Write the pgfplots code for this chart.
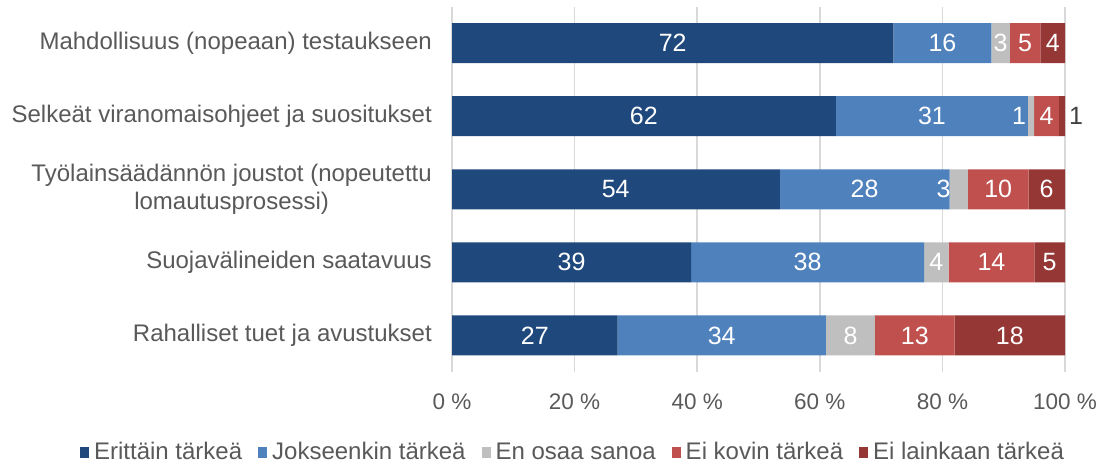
\documentclass[border=0pt]{standalone}
\usepackage{pgfplots}
\pgfplotsset{compat=1.18}
\usepackage{pgfplotstable}
\usepackage{fontspec}
\setmainfont{Liberation Sans}
\definecolor{cA}{HTML}{1F497D}
\definecolor{cB}{HTML}{4F81BD}
\definecolor{cC}{HTML}{BFBFBF}
\definecolor{cD}{HTML}{C0504D}
\definecolor{cE}{HTML}{953735}
\definecolor{txt}{HTML}{595959}
\definecolor{lblgray}{HTML}{404040}
\definecolor{gridc}{HTML}{D9D9D9}

% share of each answer (normalised to 100 per row)
\pgfplotstableread{
y x
0 72
1 62.63
2 53.47
3 39
4 27
}\dA
\pgfplotstableread{
y x
0 16
1 31.31
2 27.72
3 38
4 34
}\dB
\pgfplotstableread{
y x
0 3
1 1.01
2 2.97
3 4
4 8
}\dC
\pgfplotstableread{
y x
0 5
1 4.04
2 9.90
3 14
4 13
}\dD
\pgfplotstableread{
y x
0 4
1 1.01
2 5.94
3 5
4 18
}\dE
% data labels: position and printed value
\pgfplotstableread{
y x lab
0 36 72
0 80 16
0 89.5 3
0 93.5 5
0 98 4
1 31.3 62
1 78.3 31
1 92.5 1
1 97 4
2 26.7 54
2 67.3 28
2 80.2 3
2 89.1 10
2 97 6
3 19.5 39
3 58 38
3 79 4
3 88 14
3 97.5 5
4 13.5 27
4 44 34
4 65 8
4 75.5 13
4 91 18
}\dL
\pgfplotstableread{
y x lab
1 101.8 1
}\dLout

\pgfplotsset{common/.style={
  at={(452pt,91pt)}, anchor=south west,
  scale only axis, width=613pt, height=365.5pt,
  xmin=0, xmax=100, ymin=-0.5, ymax=4.5,
  y dir=reverse, clip=false,
  enlarge x limits=false, enlarge y limits=false,
}}

\begin{document}
\begin{tikzpicture}
\useasboundingbox (0,0) rectangle (1099pt,463pt);
\begin{axis}[
  common,
  xbar stacked, bar width=40pt,
  axis line style={draw=none},
  major tick style={draw=none},
  xmajorgrids, grid style={gridc, line width=1.5pt},
  xtick={0,20,40,60,80,100},
  xticklabels={0 \%,20 \%,40 \%,60 \%,80 \%,100 \%},
  xticklabel style={font=\fontsize{22.5}{26}\selectfont, text=txt, anchor=north, yshift=-18pt},
  ytick={0,1,2,3,4},
  yticklabels={Mahdollisuus (nopeaan) testaukseen, Selkeät viranomaisohjeet ja suositukset, {Työlainsäädännön joustot (nopeutettu\\lomautusprosessi)}, Suojavälineiden saatavuus, Rahalliset tuet ja avustukset},
  yticklabel style={font=\fontsize{24}{28.5}\selectfont, text=txt, align=center, anchor=east, inner sep=0pt, xshift=-20pt},
  legend columns=5,
  legend style={draw=none, fill=none, at={(axis description cs:0.1958,-0.2189)}, anchor=center,
    font=\fontsize{24}{28}\selectfont, text=txt,
    nodes={inner sep=0pt},
    /tikz/every odd column/.append style={column sep=5pt},
    /tikz/every even column/.append style={column sep=16pt},
    inner sep=0pt},
  legend image code/.code={\fill[#1, draw=none] (0pt,-5.5pt) rectangle (9pt,5.5pt);},
]
\addplot[fill=cA, draw=none] table[x=x, y=y] {\dA};
\addplot[fill=cB, draw=none] table[x=x, y=y] {\dB};
\addplot[fill=cC, draw=none] table[x=x, y=y] {\dC};
\addplot[fill=cD, draw=none] table[x=x, y=y] {\dD};
\addplot[fill=cE, draw=none] table[x=x, y=y] {\dE};
\legend{Erittäin tärkeä, Jokseenkin tärkeä, En osaa sanoa, Ei kovin tärkeä, Ei lainkaan tärkeä}
\end{axis}
\begin{axis}[
  common, hide axis,
  point meta=explicit symbolic,
  nodes near coords={\pgfplotspointmeta},
  every node near coord/.append style={font=\fontsize{25}{29}\selectfont, anchor=center, inner sep=0pt},
]
\addplot[draw=none, mark=none, nodes near coords style={text=white}] table[x=x, y=y, meta=lab] {\dL};
\addplot[draw=none, mark=none, nodes near coords style={text=lblgray}] table[x=x, y=y, meta=lab] {\dLout};
\end{axis}
\end{tikzpicture}
\end{document}
